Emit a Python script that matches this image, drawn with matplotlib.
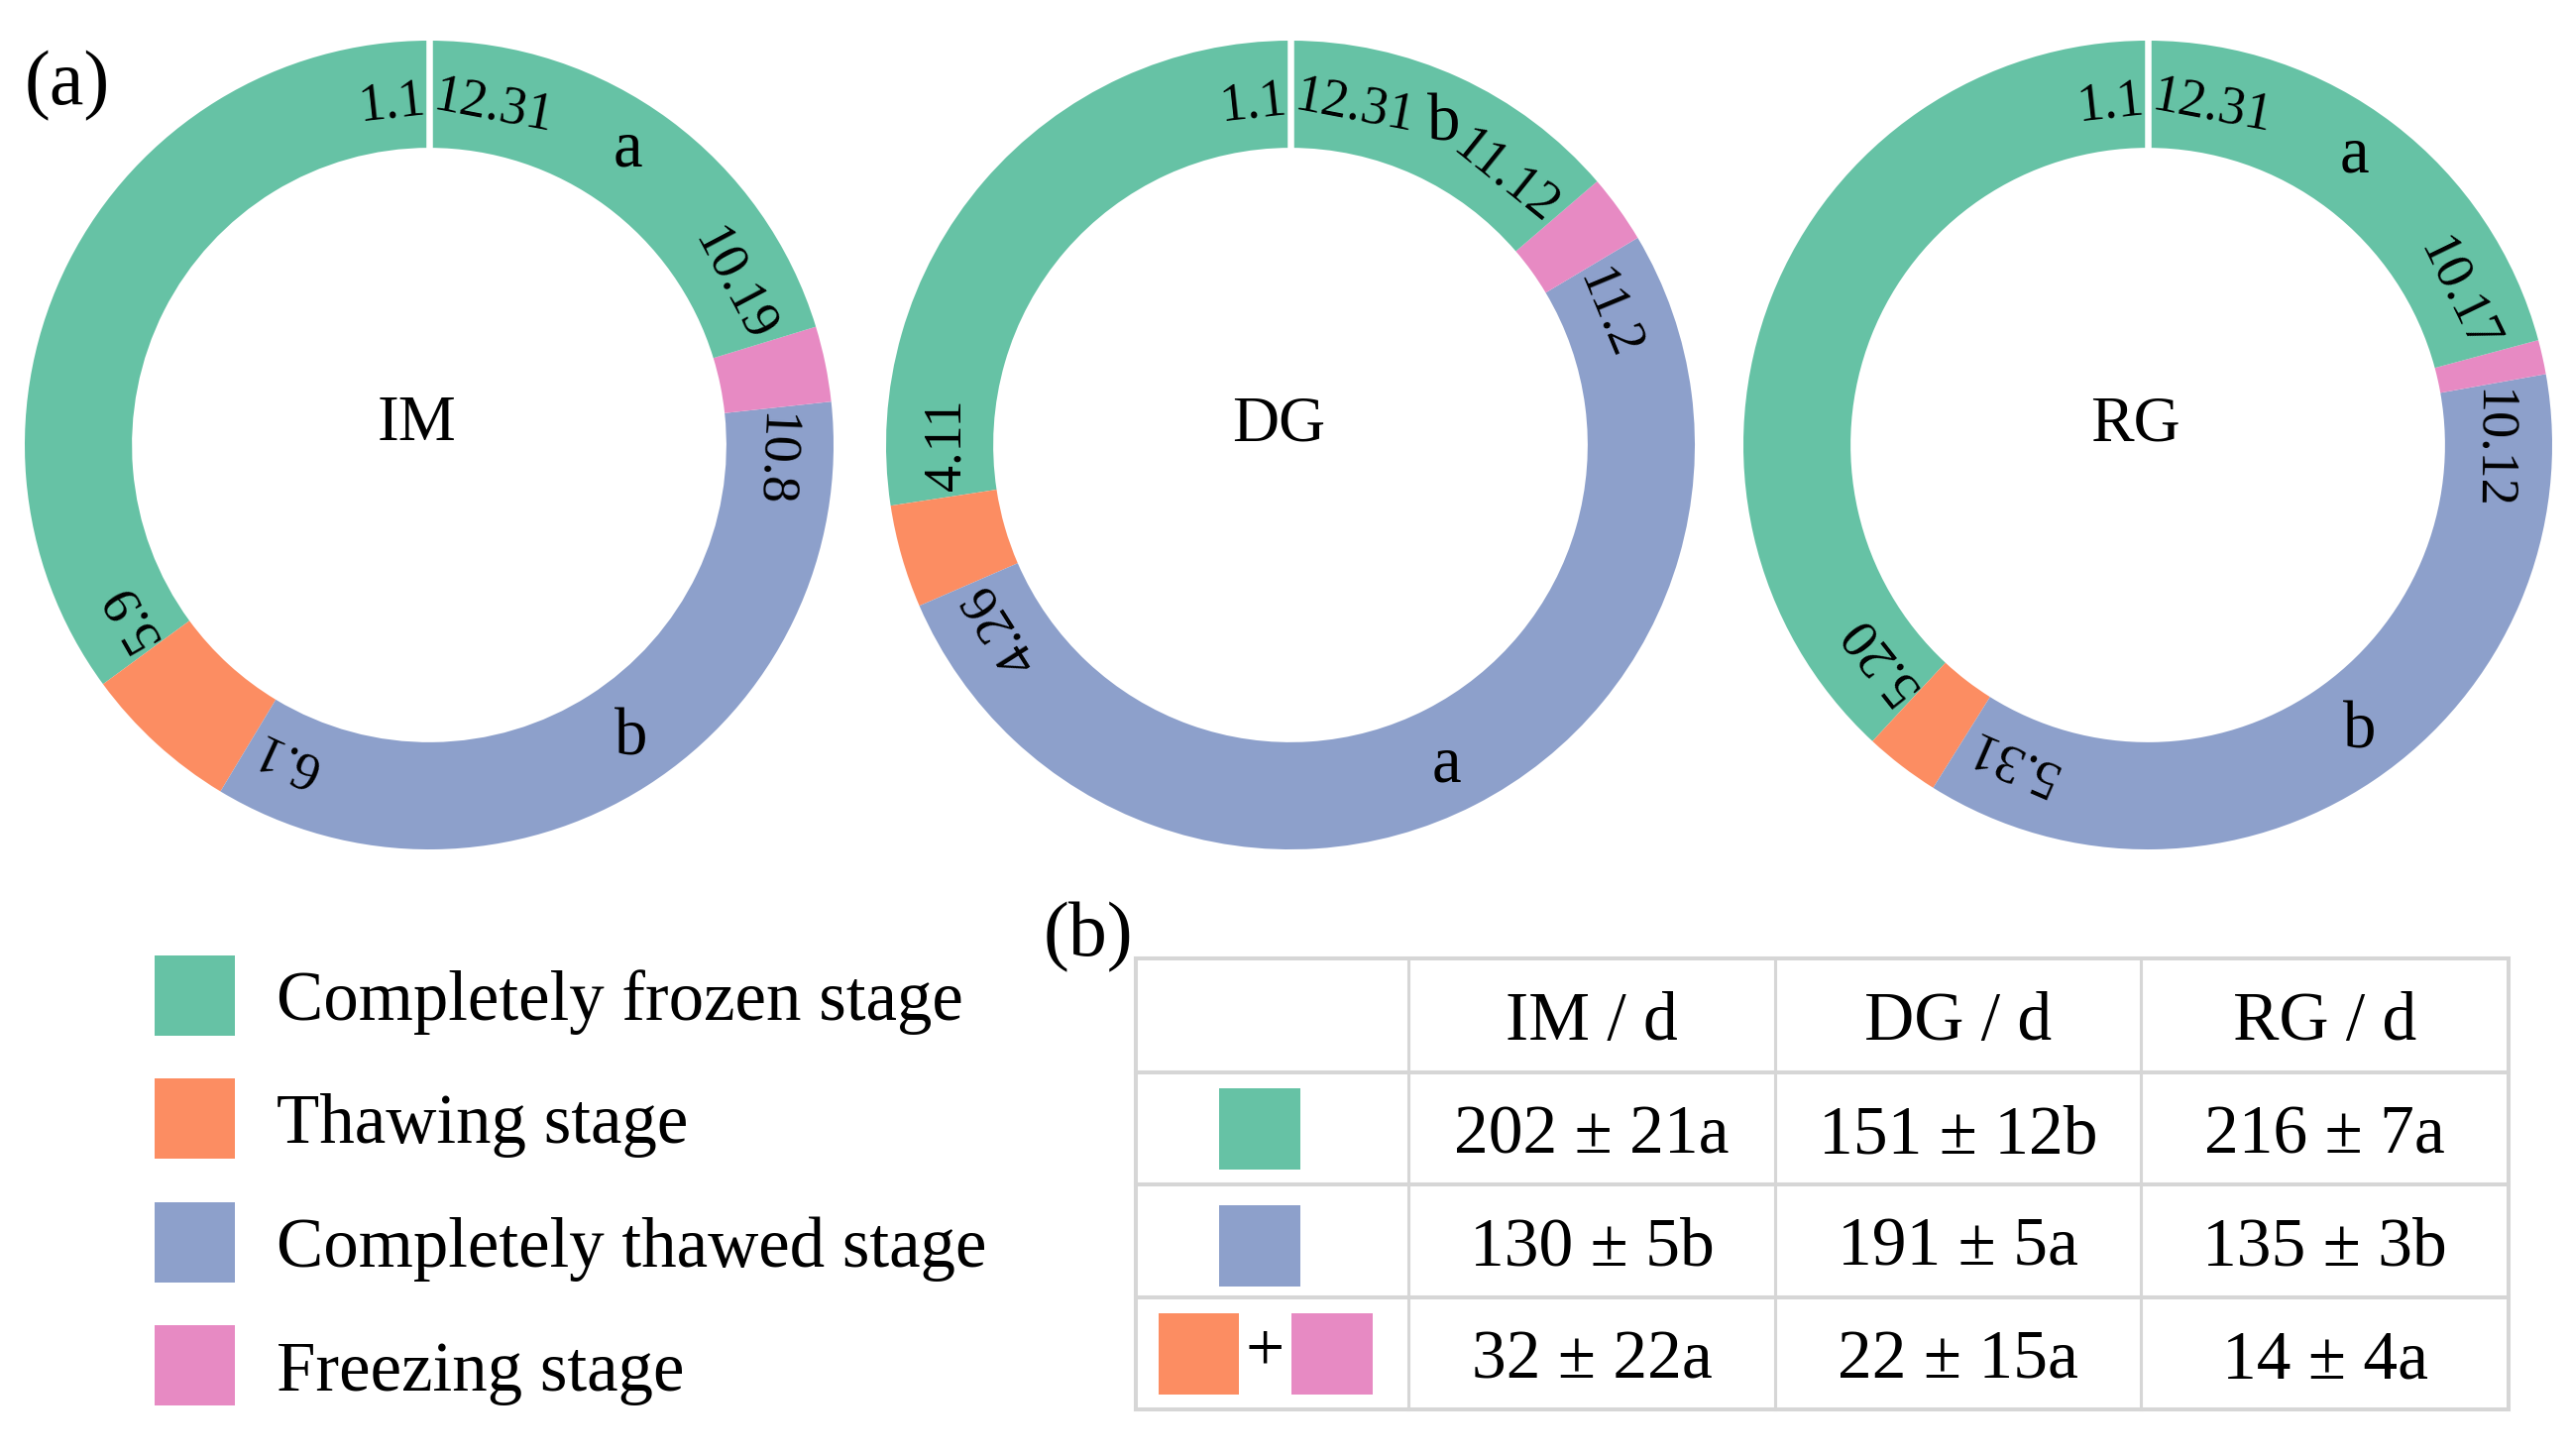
"""
Freeze-thaw stage calendars (IM / DG / RG) as donuts + summary table
"""
import datetime as dt

import numpy as np
import matplotlib
matplotlib.use("Agg")
import matplotlib.pyplot as plt
from matplotlib.patches import Rectangle
from matplotlib.textpath import TextPath
from matplotlib.font_manager import FontProperties

SERIF = ["Liberation Serif", "DejaVu Serif"]
plt.rcParams["font.family"] = SERIF

# ── data ────────────────────────────────────────────────────────────────────
SITES = ["IM", "DG", "RG"]
# boundary dates (month.day): frozen->thawing, thawing->thawed, thawed->freezing, freezing->frozen
IM_DATES = ["5.9", "6.1", "10.8", "10.19"]
DG_DATES = ["4.11", "4.26", "11.2", "11.12"]
RG_DATES = ["5.20", "5.31", "10.12", "10.17"]
# significance letters (frozen ring part, thawed ring part)
IM_LETTERS = ["a", "b"]
DG_LETTERS = ["b", "a"]
RG_LETTERS = ["a", "b"]

STAGES = ["Completely frozen stage", "Thawing stage",
          "Completely thawed stage", "Freezing stage"]
TABLE_HEADER = ["IM / d", "DG / d", "RG / d"]
FROZEN_DAYS = ["202 ± 21a", "151 ± 12b", "216 ± 7a"]
THAWED_DAYS = ["130 ± 5b", "191 ± 5a", "135 ± 3b"]
TRANSITION_DAYS = ["32 ± 22a", "22 ± 15a", "14 ± 4a"]

# ── style ───────────────────────────────────────────────────────────────────
GREEN = "#66c2a5"
ORANGE = "#fc8d62"
BLUE = "#8da0cb"
PINK = "#e78ac3"
STAGE_COLORS = [GREEN, ORANGE, BLUE, PINK]
GRID = "#d6d6d6"

W, H, DPI = 2593, 1469, 100
CENTERS_X = [433, 1302, 2167]
CENTER_Y = 449
R_PX = 408
RING = 0.265
LABEL_R = 0.85
LETTER_R = 0.88
LETTER_ANGLES = [(56, -55.5), (64.5, -64), (54.5, -53.5)]
DATE_FS = 39
PAD_PX = 8
TXT_DY = 8   # table text nudge (px, downwards)


def doy(s):
    m, d = (int(v) for v in s.split("."))
    return dt.date(2019, m, d).timetuple().tm_yday


def text_width_px(s, size):
    tp = TextPath((0, 0), s, size=size, prop=FontProperties(family=SERIF[0]))
    return tp.get_extents().width * DPI / 72


def date_label(ax, s, theta_b, side):
    """date text laid tangentially next to a boundary; side=+1 ccw, -1 cw"""
    w = text_width_px(s, DATE_FS)
    r_px = LABEL_R * R_PX
    th = theta_b + side * np.degrees((PAD_PX + w / 2) / r_px)
    t = np.radians(th)
    ax.text(LABEL_R * np.cos(t), LABEL_R * np.sin(t), s, fontsize=DATE_FS,
            ha="center", va="center", rotation=th - 90,
            rotation_mode="anchor", color="black", zorder=5)


fig = plt.figure(figsize=(W / DPI, H / DPI), dpi=DPI, facecolor="white")

# full-figure axes in pixel coords for legend / table
base = fig.add_axes([0, 0, 1, 1])
base.set_xlim(0, W)
base.set_ylim(H, 0)
base.axis("off")

# ── (a) donuts ──────────────────────────────────────────────────────────────
all_dates = [IM_DATES, DG_DATES, RG_DATES]
all_letters = [IM_LETTERS, DG_LETTERS, RG_LETTERS]
for i, site in enumerate(SITES):
    cx = CENTERS_X[i]
    ax = fig.add_axes([(cx - R_PX) / W, 1 - (CENTER_Y + R_PX) / H,
                       2 * R_PX / W, 2 * R_PX / H])
    b = [doy(s) for s in all_dates[i]]
    sizes = [b[0] - 1, b[1] - b[0], b[2] - b[1], b[3] - b[2], 366 - b[3]]
    colors = [GREEN, ORANGE, BLUE, PINK, GREEN]
    ax.pie(sizes, colors=colors, startangle=90, counterclock=True, radius=1,
           wedgeprops=dict(width=RING, linewidth=0))
    ax.set_xlim(-1, 1)
    ax.set_ylim(-1, 1)
    ax.axis("off")

    # white cut at 1.1 / 12.31
    ax.plot([0, 0], [1 - RING - 0.01, 1.01], color="white", lw=4.7,
            solid_capstyle="butt", zorder=4)

    cum = np.cumsum(sizes)[:-1]
    thetas = 90 + 360 * cum / 365
    date_label(ax, "1.1", 90, +1)
    date_label(ax, "12.31", 90, -1)
    for k, s in enumerate(all_dates[i]):
        date_label(ax, s, thetas[k], -1 if k % 2 == 0 else +1)

    for letter, ang in zip(all_letters[i], LETTER_ANGLES[i]):
        t = np.radians(ang)
        ax.text(LETTER_R * np.cos(t), LETTER_R * np.sin(t), letter,
                fontsize=48, ha="center", va="center", zorder=5)

    ax.text(-0.03, 0.05, site, fontsize=47, ha="center", va="center")

# ── legend ──────────────────────────────────────────────────────────────────
for k, (name, c) in enumerate(zip(STAGES, STAGE_COLORS)):
    yc = 1004 + k * 124.5
    base.add_patch(Rectangle((156, yc - 40.5), 81, 81, facecolor=c,
                             edgecolor="none"))
    base.text(279, yc + 25, name, fontsize=51, ha="left", va="baseline")

# ── (b) table ───────────────────────────────────────────────────────────────
col_x = [1146, 1421, 1791, 2160, 2531]
row_y = [967, 1082, 1195, 1309, 1422]
for y in row_y:
    base.plot([col_x[0], col_x[-1]], [y, y], color=GRID, lw=2.9,
              solid_capstyle="projecting")
for x in col_x:
    base.plot([x, x], [row_y[0], row_y[-1]], color=GRID,
              lw=2.9 if x in (col_x[0], col_x[-1]) else 2.2)

col_c = [(col_x[j] + col_x[j + 1]) / 2 for j in range(1, 4)]
row_c = [(row_y[j] + row_y[j + 1]) / 2 + TXT_DY for j in range(4)]
for j, h in enumerate(TABLE_HEADER):
    base.text(col_c[j], row_c[0], h, fontsize=50, ha="center", va="center")
for r, vals in enumerate([FROZEN_DAYS, THAWED_DAYS, TRANSITION_DAYS]):
    for j, v in enumerate(vals):
        base.text(col_c[j], row_c[r + 1], v, fontsize=50,
                  ha="center", va="center")

# row swatches
base.add_patch(Rectangle((1230, 1098), 82, 82, facecolor=GREEN, edgecolor="none"))
base.add_patch(Rectangle((1230, 1216), 82, 82, facecolor=BLUE, edgecolor="none"))
base.add_patch(Rectangle((1169, 1325), 81, 82, facecolor=ORANGE, edgecolor="none"))
base.add_patch(Rectangle((1303, 1325), 82, 82, facecolor=PINK, edgecolor="none"))
base.text(1276, 1366, "+", fontsize=50, ha="center", va="center")

# panel labels
fig.text(25 / W, 1 - 105 / H, "(a)", fontsize=56, ha="left", va="baseline")
fig.text(1053 / W, 1 - 964 / H, "(b)", fontsize=56, ha="left", va="baseline")

fig.savefig("out.png", dpi=DPI, facecolor="white")
